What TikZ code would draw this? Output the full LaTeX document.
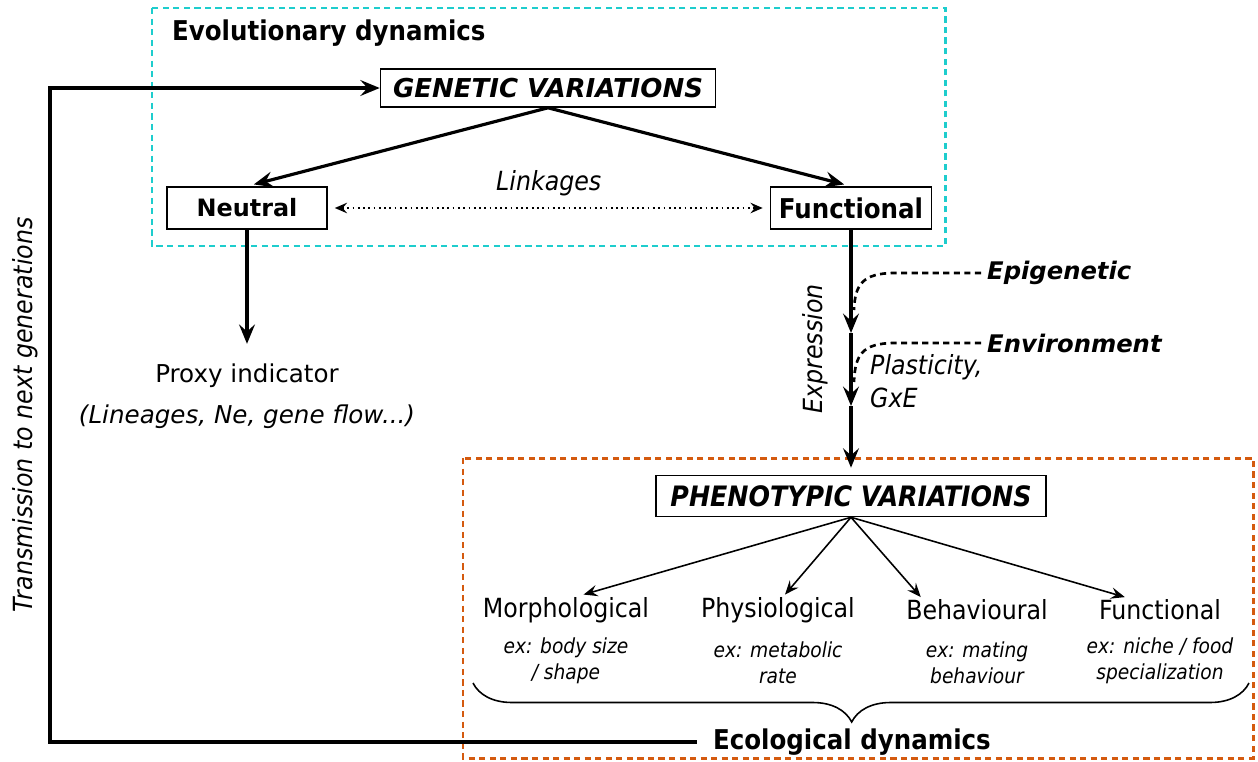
\documentclass[tikz,border=0pt]{standalone}
\usepackage{fontspec}
\setmainfont{DejaVu Sans}
\newfontfamily\condfont{DejaVu Sans Condensed}
\usetikzlibrary{positioning,arrows.meta,decorations.pathreplacing}

\definecolor{evocyan}{RGB}{30,205,205}
\definecolor{ecoorange}{RGB}{212,90,15}

\begin{document}
\begin{tikzpicture}[
    x=0.02cm, y=-0.02cm,
    box/.style={draw, line width=0.9pt, inner sep=2pt},
    main/.style={-{Stealth[length=11pt, width=9pt, inset=4pt]}, line width=1.8pt},
    branch/.style={-{Stealth[length=8pt, width=6.5pt, inset=3pt]}, line width=0.9pt},
    link/.style={{Stealth[length=7pt, width=6pt, inset=2.5pt]}-{Stealth[length=7pt, width=6pt, inset=2.5pt]}, dotted, line width=1pt},
    influence/.style={dash pattern=on 3.5pt off 2.5pt, line width=1.5pt},
    frame/.style={dash pattern=on 3.5pt off 2.5pt, line width=1.7pt},
    wide/.style={font=\fontsize{14}{17}\selectfont},
    wideit/.style={font=\itshape\fontsize{14}{17}\selectfont},
    widebold/.style={font=\bfseries\itshape\fontsize{13.8}{17}\selectfont},
    title/.style={font=\condfont\bfseries\fontsize{15.5}{18}\selectfont},
    cond/.style={font=\condfont\fontsize{15}{18}\selectfont},
    condit/.style={font=\condfont\itshape\fontsize{15}{18}\selectfont},
    example/.style={font=\condfont\itshape\fontsize{11.8}{14.5}\selectfont, align=center}
]
\useasboundingbox (0,0) rectangle (1258,761);

% Frames
\draw[frame, evocyan] (152,8) rectangle (945,246);
\draw[frame, ecoorange] (463,458) rectangle (1253,758);

% Evolutionary part
\node[title, anchor=west] (evo) at (166,33) {Evolutionary dynamics};
\node[box, minimum width=6.7cm, minimum height=0.76cm, font=\bfseries\itshape\fontsize{14.8}{17}\selectfont] (gv) at (548,88) {GENETIC VARIATIONS};
\node[box, minimum width=3.2cm, minimum height=0.84cm, font=\bfseries\fontsize{13.6}{17}\selectfont] (neutral) at (247,208) {Neutral};
\node[box, minimum width=3.22cm, minimum height=0.84cm, title] (functional) at (851,208) {Functional};

\draw[main, shorten >=4pt] (gv.south) -- (neutral.north);
\draw[main, shorten >=4pt] (gv.south) -- (functional.north);
\draw[link, shorten <=4pt, shorten >=4pt] (neutral) -- (functional) node[midway, above=3pt, condit] (linkages) {Linkages};

% Neutral markers
\node[wide] (proxy) at (247,376) {Proxy indicator};
\node[wideit, below=0.08cm of proxy] (lineages) {(Lineages, Ne, gene flow...)};
\draw[main, shorten >=8pt] (neutral.south) -- (proxy.north);

% Expression
\coordinate (epi in) at (851,333);
\coordinate (env in) at (851,406);
\node[box, minimum width=7.8cm, minimum height=0.82cm, font=\condfont\bfseries\itshape\fontsize{16}{19}\selectfont] (pheno) at (851,496) {PHENOTYPIC VARIATIONS};
\draw[main] (functional.south) -- (epi in);
\draw[main] (epi in) -- (env in);
\draw[main, shorten >=4pt] (env in) -- (pheno.north);
\node[condit, rotate=90] (expression) at (815,349) {Expression};

\node[widebold, anchor=west] (epi) at (981,273) {Epigenetic};
\node[widebold, anchor=west] (env) at (981,343) {Environment};
\draw[influence] (epi.west) -- (895,273) .. controls (862,273) and (855,285) .. (854,310);
\draw[influence] (env.west) -- (895,343) .. controls (862,343) and (855,355) .. (854,382);
\node[condit, anchor=west] (plasticity) at (864,367) {Plasticity,};
\node[condit, anchor=west] (gxe) at (864,398) {GxE};

% Ecological part
\node[cond] (morpho) at (566,610) {Morphological};
\node[cond] (physio) at (778,610) {Physiological};
\node[cond] (behav) at (977,610) {Behavioural};
\node[cond] (funct) at (1160,610) {Functional};

\node[example] (ex morpho) at (566,661) {ex: body size\\/ shape};
\node[example] (ex physio) at (778,663) {ex: metabolic\\rate};
\node[example] (ex behav) at (977,663) {ex: mating\\behaviour};
\node[example] (ex funct) at (1160,661) {ex: niche / food\\specialization};

\draw[branch] (pheno.south) -- ([xshift=10pt, yshift=-2pt]morpho.north);
\draw[branch] (pheno.south) -- ([xshift=4pt, yshift=-2pt]physio.north);
\draw[branch] (pheno.south) -- ([xshift=-32pt, yshift=-2pt]behav.north);
\draw[branch] (pheno.south) -- ([xshift=-20pt, yshift=-2pt]funct.north);

\coordinate (brace left) at (473,683);
\coordinate (brace right) at (1249,683);
\draw[decorate, decoration={brace, mirror, amplitude=0.78cm, aspect=0.488}, line width=0.9pt] (brace left) -- (brace right);
\node[title] (eco) at (852,742) {Ecological dynamics};

% Transmission loop
\draw[main] (eco.west) ++(-10,0) -- (50,742) |- (gv.west);
\node[condit, rotate=90] (transmission) at (25,415) {Transmission to next generations};

\end{tikzpicture}
\end{document}
